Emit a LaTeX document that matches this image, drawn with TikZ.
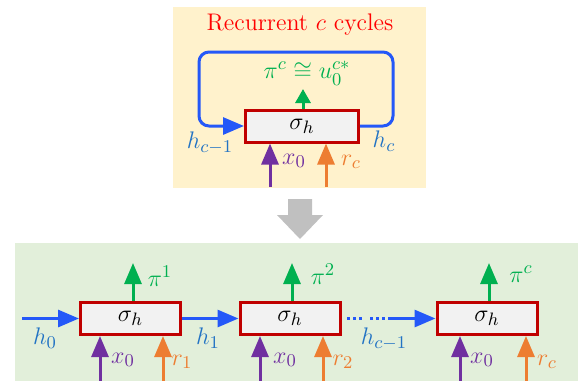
\documentclass[tikz,border=0pt]{standalone}
\usepackage{amsmath}
\usepackage{amssymb}
\usepackage{xcolor}
\usepackage{tikz}
\usetikzlibrary{positioning,arrows.meta}
\definecolor{boxred}{HTML}{C00000}
\definecolor{cellgray}{HTML}{F2F2F2}
\definecolor{outgreen}{HTML}{00B050}
\definecolor{hblue}{HTML}{2458F8}
\definecolor{hlabel}{HTML}{2273C4}
\definecolor{xpurple}{HTML}{7030A0}
\definecolor{rorange}{HTML}{ED7D31}
\definecolor{yellowbg}{HTML}{FFF2CC}
\definecolor{greenbg}{HTML}{E2EFDA}
\definecolor{downgray}{HTML}{C0C0C0}

\begin{document}
\begin{tikzpicture}[x=0.5pt, y=-0.5pt,
  cellnode/.style={draw=boxred, fill=cellgray, line width=1.5pt, minimum height=16pt, inner sep=0pt, font=\fontsize{13}{15}\selectfont},
  flow/.style={line width=1.5pt, -{Triangle[length=10.5pt, width=8.5pt]}},
  shortflow/.style={line width=1.5pt, -{Triangle[length=7pt, width=7.5pt]}},
  lbl/.style={inner sep=0pt, font=\fontsize{13}{15}\selectfont}]
\useasboundingbox (0,0) rectangle (585,381);

\fill[yellowbg] (173,7) rectangle (426,188);
\fill[greenbg] (15,243) rectangle (578,381);
\fill[downgray] (288,199) -- (312,199) -- (312,215) -- (323,215) -- (300,239) -- (277,215) -- (288,215) -- cycle;

\node[red, inner sep=0pt, font=\fontsize{12}{14}\selectfont] at (300,25) (title) {Recurrent $c$ cycles};

\node[cellnode, minimum width=56.5pt] at (302,126) (t) {$\sigma_h$};
\coordinate (tr) at (393,52);
\coordinate (tl) at (199,52);
\draw[flow, color=hblue, rounded corners=5pt] (t.east) -| (tr) -- (tl) |- (t.west);
\coordinate (tpi) at (303,89);
\draw[shortflow, color=outgreen] (t.north -| tpi) -- (tpi);
\node[lbl, text=outgreen] at (307,73) (tpil) {$\pi^{c} \cong u_0^{c*}$};
\node[lbl, text=hlabel] at (210,143) (thin) {$h_{c-1}$};
\node[lbl, text=hlabel] at (384,141) (thout) {$h_{c}$};
\coordinate (tx) at (270,187);
\draw[flow, color=xpurple] (tx) -- (tx |- t.south);
\node[lbl, text=xpurple] at (294,161) (txl) {$x_0$};
\coordinate (trr) at (326,187);
\draw[flow, color=rorange] (trr) -- (trr |- t.south);
\node[lbl, text=rorange] at (351,162) (trl) {$r_c$};

\node[cellnode, minimum width=50pt] at (130.5,318.5) (b1) {$\sigma_h$};
\node[cellnode, minimum width=50pt] at (290,318.5) (b2) {$\sigma_h$};
\node[cellnode, minimum width=50pt] at (487,318.5) (b3) {$\sigma_h$};

\coordinate (h0s) at (22,318.5);
\draw[flow, color=hblue] (h0s) -- (b1.west);
\node[lbl, text=hlabel] at (45,338) (h0l) {$h_0$};
\draw[flow, color=hblue] (b1.east) -- (b2.west);
\node[lbl, text=hlabel] at (208,338) (h1l) {$h_1$};
\coordinate (d1) at (347,318.5);
\coordinate (d2) at (388,318.5);
\draw[line width=1.5pt, color=hblue, dash pattern=on 1.5pt off 1.5pt on 1.5pt off 1.5pt on 1.5pt off 4pt] (d1) -- (d2);
\draw[flow, color=hblue] (d2) -- (b3.west);
\node[lbl, text=hlabel] at (384,339) (hcl) {$h_{c-1}$};

\coordinate (p1) at (133,263);
\coordinate (p2) at (292,263);
\coordinate (p3) at (489,263);
\draw[flow, color=outgreen] (b1.north -| p1) -- (p1);
\draw[flow, color=outgreen] (b2.north -| p2) -- (p2);
\draw[flow, color=outgreen] (b3.north -| p3) -- (p3);
\node[lbl, text=outgreen] at (160,276) (p1l) {$\pi^{1}$};
\node[lbl, text=outgreen] at (323,274) (p2l) {$\pi^{2}$};
\node[lbl, text=outgreen] at (521,274) (p3l) {$\pi^{c}$};

\coordinate (x1) at (100,381);
\coordinate (x2) at (260,381);
\coordinate (x3) at (460,381);
\draw[flow, color=xpurple] (x1) -- (x1 |- b1.south);
\draw[flow, color=xpurple] (x2) -- (x2 |- b2.south);
\draw[flow, color=xpurple] (x3) -- (x3 |- b3.south);
\node[lbl, text=xpurple] at (123,360) (x1l) {$x_0$};
\node[lbl, text=xpurple] at (285,360) (x2l) {$x_0$};
\node[lbl, text=xpurple] at (482,360) (x3l) {$x_0$};

\coordinate (r1) at (163,381);
\coordinate (r2) at (323,381);
\coordinate (r3) at (526,381);
\draw[flow, color=rorange] (r1) -- (r1 |- b1.south);
\draw[flow, color=rorange] (r2) -- (r2 |- b2.south);
\draw[flow, color=rorange] (r3) -- (r3 |- b3.south);
\node[lbl, text=rorange] at (182,362) (r1l) {$r_1$};
\node[lbl, text=rorange] at (343,362) (r2l) {$r_2$};
\node[lbl, text=rorange] at (547,362) (r3l) {$r_c$};

\end{tikzpicture}
\end{document}
